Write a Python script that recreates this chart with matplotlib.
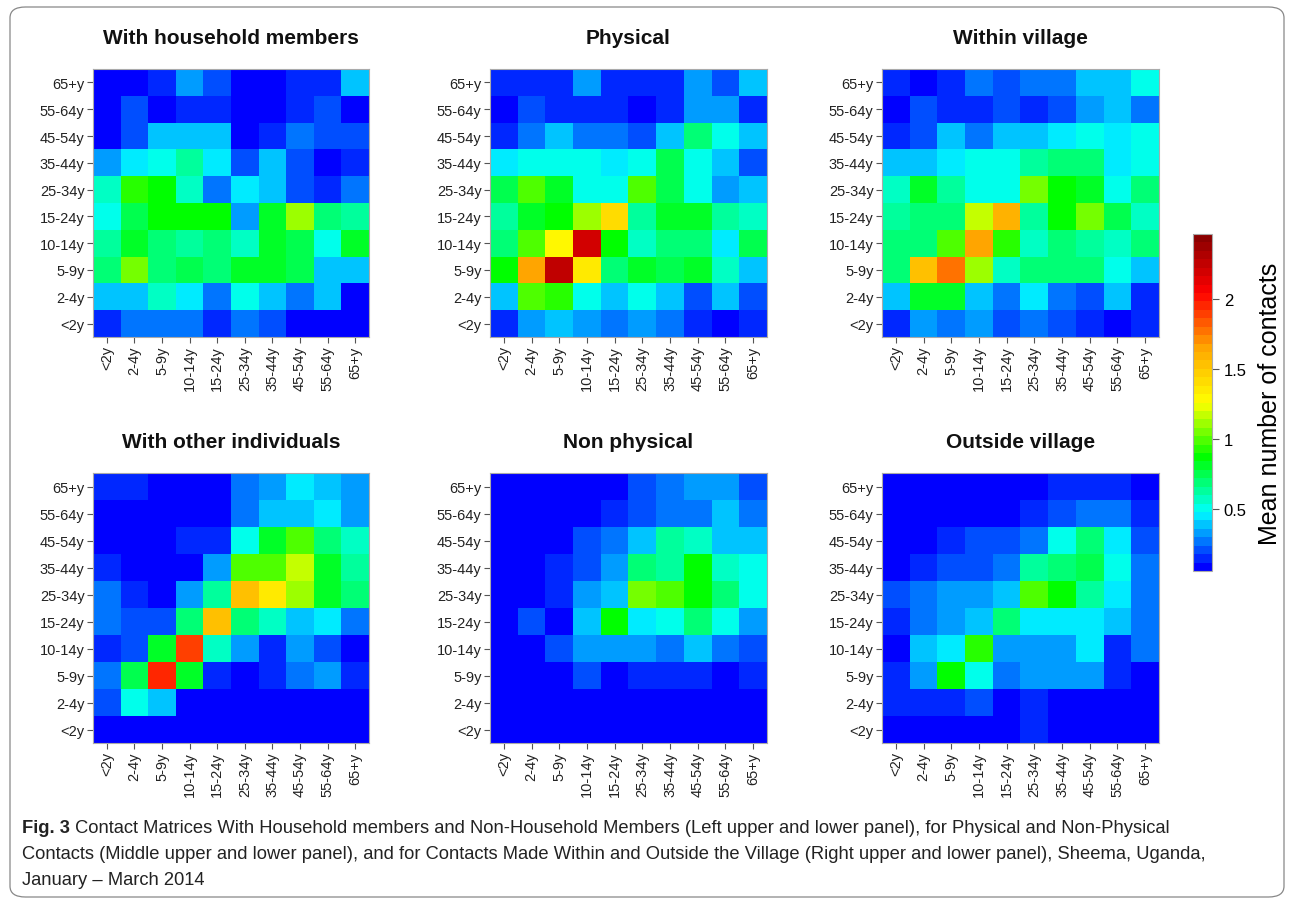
import numpy as np
import matplotlib
matplotlib.use("Agg")
import matplotlib.pyplot as plt
from matplotlib.colors import LinearSegmentedColormap, Normalize
from matplotlib.cm import ScalarMappable
from matplotlib.patches import FancyBboxPatch

# Age groups (rows listed top -> bottom as printed: 65+y first)
ages = ["<2y", "2-4y", "5-9y", "10-14y", "15-24y", "25-34y",
        "35-44y", "45-54y", "55-64y", "65+y"]

household = [
    [0.06, 0.10, 0.15, 0.31, 0.18, 0.10, 0.10, 0.15, 0.15, 0.36],
    [0.06, 0.20, 0.08, 0.15, 0.15, 0.06, 0.06, 0.15, 0.20, 0.10],
    [0.10, 0.20, 0.36, 0.36, 0.41, 0.08, 0.15, 0.26, 0.20, 0.20],
    [0.34, 0.46, 0.53, 0.61, 0.46, 0.23, 0.36, 0.20, 0.10, 0.15],
    [0.56, 0.91, 0.88, 0.56, 0.28, 0.46, 0.41, 0.20, 0.15, 0.26],
    [0.51, 0.76, 0.84, 0.84, 0.84, 0.34, 0.81, 1.08, 0.66, 0.61],
    [0.64, 0.81, 0.71, 0.61, 0.66, 0.59, 0.81, 0.76, 0.51, 0.81],
    [0.66, 1.06, 0.66, 0.76, 0.66, 0.81, 0.81, 0.76, 0.36, 0.36],
    [0.36, 0.41, 0.56, 0.46, 0.28, 0.53, 0.36, 0.26, 0.36, 0.10],
    [0.15, 0.26, 0.26, 0.26, 0.15, 0.26, 0.20, 0.10, 0.10, 0.06],
]

physical = [
    [0.15, 0.15, 0.15, 0.31, 0.15, 0.15, 0.15, 0.31, 0.20, 0.41],
    [0.10, 0.20, 0.15, 0.15, 0.15, 0.10, 0.15, 0.31, 0.31, 0.15],
    [0.15, 0.26, 0.41, 0.28, 0.28, 0.23, 0.36, 0.66, 0.51, 0.41],
    [0.46, 0.48, 0.53, 0.48, 0.46, 0.48, 0.76, 0.53, 0.36, 0.23],
    [0.76, 0.96, 0.82, 0.53, 0.48, 0.96, 0.76, 0.48, 0.31, 0.41],
    [0.64, 0.79, 0.88, 1.11, 1.40, 0.61, 0.81, 0.81, 0.64, 0.56],
    [0.68, 0.96, 1.26, 2.17, 0.86, 0.56, 0.71, 0.66, 0.46, 0.76],
    [0.88, 1.68, 2.24, 1.36, 0.71, 0.81, 0.76, 0.81, 0.56, 0.36],
    [0.41, 0.96, 0.91, 0.51, 0.36, 0.51, 0.36, 0.23, 0.36, 0.20],
    [0.15, 0.31, 0.36, 0.31, 0.26, 0.31, 0.26, 0.15, 0.10, 0.15],
]

within_village = [
    [0.15, 0.10, 0.15, 0.26, 0.20, 0.26, 0.26, 0.41, 0.36, 0.51],
    [0.06, 0.20, 0.15, 0.15, 0.18, 0.13, 0.20, 0.31, 0.41, 0.26],
    [0.15, 0.20, 0.36, 0.28, 0.41, 0.36, 0.46, 0.53, 0.46, 0.53],
    [0.36, 0.41, 0.46, 0.48, 0.51, 0.61, 0.66, 0.66, 0.46, 0.48],
    [0.59, 0.81, 0.64, 0.53, 0.48, 1.06, 0.86, 0.81, 0.48, 0.66],
    [0.61, 0.71, 0.68, 1.16, 1.58, 0.64, 0.86, 1.06, 0.76, 0.59],
    [0.66, 0.66, 1.01, 1.64, 0.91, 0.56, 0.66, 0.61, 0.56, 0.66],
    [0.66, 1.50, 1.74, 1.08, 0.56, 0.66, 0.66, 0.71, 0.51, 0.36],
    [0.41, 0.81, 0.81, 0.36, 0.28, 0.46, 0.28, 0.23, 0.36, 0.15],
    [0.15, 0.31, 0.26, 0.31, 0.20, 0.26, 0.20, 0.15, 0.10, 0.15],
]

other_individuals = [
    [0.13, 0.13, 0.06, 0.06, 0.08, 0.26, 0.31, 0.46, 0.36, 0.31],
    [0.06, 0.06, 0.10, 0.10, 0.08, 0.26, 0.36, 0.41, 0.46, 0.31],
    [0.10, 0.10, 0.10, 0.15, 0.15, 0.53, 0.81, 0.99, 0.71, 0.56],
    [0.15, 0.10, 0.10, 0.08, 0.31, 0.96, 0.99, 1.19, 0.81, 0.61],
    [0.28, 0.15, 0.08, 0.31, 0.61, 1.54, 1.36, 1.13, 0.81, 0.66],
    [0.28, 0.20, 0.20, 0.68, 1.50, 0.68, 0.56, 0.41, 0.46, 0.26],
    [0.15, 0.20, 0.81, 1.90, 0.56, 0.31, 0.15, 0.31, 0.20, 0.10],
    [0.26, 0.76, 1.92, 0.81, 0.15, 0.10, 0.15, 0.26, 0.31, 0.15],
    [0.18, 0.53, 0.41, 0.10, 0.10, 0.10, 0.06, 0.10, 0.06, 0.10],
    [0.06, 0.10, 0.10, 0.10, 0.10, 0.10, 0.10, 0.10, 0.06, 0.10],
]

non_physical = [
    [0.06, 0.06, 0.06, 0.10, 0.10, 0.20, 0.26, 0.31, 0.31, 0.20],
    [0.06, 0.06, 0.06, 0.10, 0.15, 0.20, 0.26, 0.26, 0.36, 0.26],
    [0.06, 0.10, 0.10, 0.20, 0.26, 0.41, 0.61, 0.56, 0.41, 0.41],
    [0.06, 0.06, 0.15, 0.20, 0.31, 0.71, 0.61, 0.86, 0.56, 0.51],
    [0.06, 0.10, 0.15, 0.31, 0.41, 1.06, 0.99, 0.86, 0.66, 0.51],
    [0.06, 0.20, 0.10, 0.41, 0.86, 0.46, 0.51, 0.71, 0.51, 0.31],
    [0.06, 0.06, 0.23, 0.31, 0.31, 0.31, 0.26, 0.36, 0.26, 0.20],
    [0.06, 0.06, 0.10, 0.20, 0.10, 0.15, 0.15, 0.15, 0.10, 0.15],
    [0.06, 0.06, 0.06, 0.06, 0.10, 0.06, 0.06, 0.10, 0.06, 0.06],
    [0.06, 0.06, 0.06, 0.06, 0.06, 0.06, 0.06, 0.06, 0.06, 0.06],
]

outside_village = [
    [0.06, 0.06, 0.06, 0.10, 0.10, 0.10, 0.15, 0.15, 0.15, 0.10],
    [0.06, 0.06, 0.06, 0.06, 0.08, 0.15, 0.20, 0.26, 0.26, 0.15],
    [0.06, 0.10, 0.15, 0.20, 0.20, 0.28, 0.51, 0.66, 0.46, 0.20],
    [0.10, 0.15, 0.20, 0.20, 0.26, 0.61, 0.71, 0.76, 0.51, 0.26],
    [0.20, 0.26, 0.31, 0.31, 0.36, 0.96, 0.86, 0.61, 0.46, 0.26],
    [0.15, 0.26, 0.31, 0.36, 0.71, 0.46, 0.46, 0.46, 0.36, 0.26],
    [0.10, 0.36, 0.46, 0.93, 0.31, 0.31, 0.31, 0.46, 0.15, 0.26],
    [0.15, 0.31, 0.88, 0.51, 0.26, 0.31, 0.31, 0.31, 0.15, 0.10],
    [0.13, 0.15, 0.15, 0.20, 0.10, 0.15, 0.10, 0.10, 0.06, 0.10],
    [0.06, 0.10, 0.10, 0.06, 0.06, 0.15, 0.06, 0.06, 0.06, 0.06],
]

panels = [
    ("With household members", household),
    ("Physical", physical),
    ("Within village", within_village),
    ("With other individuals", other_individuals),
    ("Non physical", non_physical),
    ("Outside village", outside_village),
]

cbar_ticks = [0.5, 1, 1.5, 2]
VMIN, VMAX = 0.06, 2.46

caption_bold = "Fig. 3"
caption_lines = [
    " Contact Matrices With Household members and Non-Household Members (Left upper and lower panel), for Physical and Non-Physical",
    "Contacts (Middle upper and lower panel), and for Contacts Made Within and Outside the Village (Right upper and lower panel), Sheema, Uganda,",
    "January \u2013 March 2014",
]

plt.rcParams["font.family"] = ["Liberation Sans", "DejaVu Sans"]

W, H = 1292, 904
fig = plt.figure(figsize=(W / 100, H / 100), dpi=100)

cmap = LinearSegmentedColormap.from_list(
    "contacts",
    ["#0000FF", "#00FFFF", "#00FF00", "#FFFF00", "#FFA500", "#FF0000", "#8B0000"],
    N=40,
)
norm = Normalize(VMIN, VMAX)


def rect(x0, x1, ytop, ybot):
    return [x0 / W, 1 - ybot / H, (x1 - x0) / W, (ybot - ytop) / H]


xs = [(93, 369), (490, 767), (882, 1159)]
ys = [(70, 338), (474, 744)]

for i, (title, data) in enumerate(panels):
    r, c = divmod(i, 3)
    ax = fig.add_axes(rect(xs[c][0], xs[c][1], ys[r][0], ys[r][1]))
    m = np.array(data)[::-1]  # bottom row = <2y
    ax.imshow(m, cmap=cmap, norm=norm, origin="lower", aspect="auto",
              interpolation="nearest", extent=(-0.5, 9.5, -0.5, 9.5))
    ax.set_xticks(range(10))
    ax.set_yticks(range(10))
    ax.set_xticklabels(ages, rotation=90, fontsize=10.5, color="#222222")
    ax.set_yticklabels(ages, fontsize=10.5, color="#222222")
    ax.tick_params(length=4, width=0.8, color="#555555", pad=2)
    for s in ax.spines.values():
        s.set_color("#aaaaaa")
        s.set_linewidth(0.8)
    ax.set_title(title, fontsize=15, fontweight="bold", pad=19, color="#111111")

# colour bar
cax = fig.add_axes(rect(1193, 1212, 235, 572))
cb = fig.colorbar(ScalarMappable(norm=norm, cmap=cmap), cax=cax, ticks=cbar_ticks)
cb.ax.set_yticklabels(["0.5", "1", "1.5", "2"])
cb.ax.tick_params(labelsize=12, length=5, width=0.8, color="#555555")
cb.outline.set_edgecolor("#aaaaaa")
cb.outline.set_linewidth(0.8)
cb.set_label("Mean number of contacts", fontsize=18, labelpad=8)

# frame around the figure
frame = FancyBboxPatch((10 / W, 6 / H), 1274 / W, 890 / H,
                       boxstyle="round,pad=0,rounding_size=0.012",
                       transform=fig.transFigure, fill=False,
                       edgecolor="#888888", linewidth=0.9)
fig.patches.append(frame)

# caption
cap_font = ["Liberation Sans Narrow", "Liberation Sans", "DejaVu Sans"]
cap_size = 13.2
cap_x = 22 / W
line_y = [829, 855, 881]
tb = fig.text(cap_x, 1 - line_y[0] / H, caption_bold, fontsize=cap_size,
              fontweight="bold", family=cap_font, va="center", color="#222222")
fig.canvas.draw()
bb = tb.get_window_extent(renderer=fig.canvas.get_renderer())
fig.text(bb.x1 / W, 1 - line_y[0] / H, caption_lines[0], fontsize=cap_size,
         family=cap_font, va="center", color="#222222")
for yy, txt in zip(line_y[1:], caption_lines[1:]):
    fig.text(cap_x, 1 - yy / H, txt, fontsize=cap_size, family=cap_font,
             va="center", color="#222222")

fig.savefig("out.png", dpi=100)
